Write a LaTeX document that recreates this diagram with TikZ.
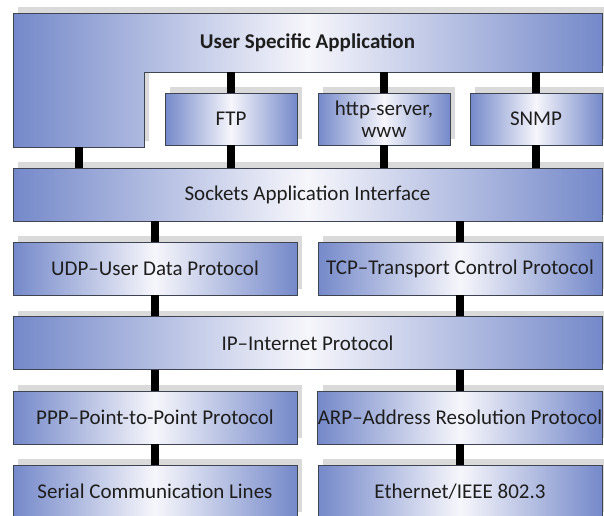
\documentclass[tikz,border=0pt]{standalone}
\usepackage{fontspec}
\setmainfont{Carlito}
\definecolor{edgeblue}{HTML}{7589CA}
\definecolor{midwhite}{HTML}{F6F6FB}
\definecolor{boxline}{HTML}{3E4452}
\definecolor{shadowgray}{HTML}{DADADA}
\definecolor{txt}{HTML}{1E1E1E}
\tikzset{
  shadowed/.style={preaction={fill=shadowgray, transform canvas={shift={(5pt,6pt)}}}},
  layer/.style={rectangle, shadowed, draw=boxline, line width=0.8pt,
    left color=edgeblue, right color=edgeblue, middle color=midwhite,
    text=txt, font=\fontsize{21}{22}\selectfont, inner sep=0pt, align=center},
  link/.style={line width=8pt, draw=black}
}
\begin{document}
\begin{tikzpicture}[x=1pt,y=-1pt]
\useasboundingbox (0,0) rectangle (604,515);
% L-shaped user application box
\path[shadowed] (13,13) -- (602,13) -- (602,72) -- (144,72) -- (144,147) -- (13,147) -- cycle;
\path[draw=boxline, line width=0.8pt, left color=edgeblue, right color=edgeblue, middle color=midwhite]
  (13,13) -- (602,13) -- (602,72) -- (144,72) -- (144,147) -- (13,147) -- cycle;
\node[text=txt, font=\fontsize{21}{22}\selectfont\bfseries] (usa) at (307.5,43) {User Specific Application};
\coordinate (usaB) at (0,72);
\coordinate (usaL) at (79,147);
% application boxes
\node[layer, minimum width=132pt, minimum height=52pt] (ftp) at (231,119) {FTP};
\node[layer, minimum width=132pt, minimum height=52pt] (http) at (384,119) {http-server,\\www};
\node[layer, minimum width=132pt, minimum height=52pt] (snmp) at (536,119) {SNMP};
\node[layer, minimum width=589pt, minimum height=53pt] (sock) at (307.5,194.5) {Sockets Application Interface};
\node[layer, minimum width=284pt, minimum height=53pt] (udp) at (155,268.5) {UDP--User Data Protocol};
\node[layer, minimum width=284pt, minimum height=53pt] (tcp) at (460,268.5) {TCP--Transport Control Protocol};
\node[layer, minimum width=589pt, minimum height=53pt] (ip) at (307.5,343) {IP--Internet Protocol};
\node[layer, minimum width=284pt, minimum height=53pt] (ppp) at (155,417.5) {PPP--Point-to-Point Protocol};
\node[layer, minimum width=284pt, minimum height=53pt] (arp) at (460,417.5) {ARP--Address Resolution Protocol};
\node[layer, minimum width=284pt, minimum height=53pt] (ser) at (155,491.5) {Serial Communication Lines};
\node[layer, minimum width=284pt, minimum height=53pt] (eth) at (460,491.5) {Ethernet/IEEE 802.3};
% connectors
\draw[link] (ftp.north) -- (ftp.north |- usaB);
\draw[link] (http.north) -- (http.north |- usaB);
\draw[link] (snmp.north) -- (snmp.north |- usaB);
\draw[link] (usaL) -- (usaL |- sock.north);
\draw[link] (ftp.south) -- (ftp.south |- sock.north);
\draw[link] (http.south) -- (http.south |- sock.north);
\draw[link] (snmp.south) -- (snmp.south |- sock.north);
\draw[link] (udp.north) -- (udp.north |- sock.south);
\draw[link] (tcp.north) -- (tcp.north |- sock.south);
\draw[link] (udp.south) -- (udp.south |- ip.north);
\draw[link] (tcp.south) -- (tcp.south |- ip.north);
\draw[link] (ppp.north) -- (ppp.north |- ip.south);
\draw[link] (arp.north) -- (arp.north |- ip.south);
\draw[link] (ppp.south) -- (ser.north);
\draw[link] (arp.south) -- (eth.north);
\end{tikzpicture}
\end{document}
